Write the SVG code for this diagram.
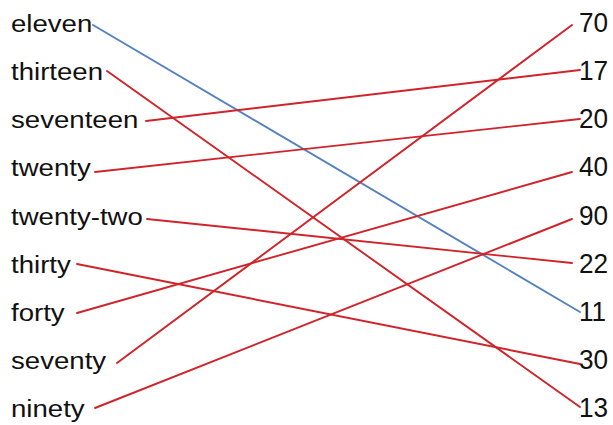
<svg xmlns="http://www.w3.org/2000/svg" width="613" height="425" viewBox="0 0 613 425">
  <style>
    .word { font-family: "Liberation Sans", Arial, sans-serif; font-size: 24px; fill: #111; }
    .num { font-family: "Liberation Sans", Arial, sans-serif; font-size: 27px; fill: #111; }
    .link { fill: none; stroke-width: 1.9; stroke-linecap: round; }
    .red { stroke: #d0232a; }
    .blue { stroke: #5580c2; }
  </style>
  <rect width="613" height="425" fill="#fff"/>

  <!-- connectors: word to number -->
  <g id="connectors">
    <line class="link blue" x1="93" y1="25" x2="580" y2="312"/>
    <line class="link red" x1="107" y1="71" x2="580" y2="407"/>
    <line class="link red" x1="146" y1="121" x2="580" y2="70"/>
    <line class="link red" x1="95" y1="172" x2="580" y2="119"/>
    <line class="link red" x1="147" y1="219" x2="572" y2="263"/>
    <line class="link red" x1="77" y1="264" x2="580" y2="364"/>
    <line class="link red" x1="77" y1="313" x2="572" y2="172"/>
    <line class="link red" x1="117" y1="363" x2="572" y2="25"/>
    <line class="link red" x1="95" y1="408" x2="572" y2="219"/>
  </g>

  <!-- left column: number words -->
  <g id="w-eleven"><text class="word" transform="translate(11,31.7) scale(1.15,1)">eleven</text></g>
  <g id="w-thirteen"><text class="word" transform="translate(11,79.9) scale(1.15,1)">thirteen</text></g>
  <g id="w-seventeen"><text class="word" transform="translate(11,128) scale(1.15,1)">seventeen</text></g>
  <g id="w-twenty"><text class="word" transform="translate(11,176.3) scale(1.15,1)">twenty</text></g>
  <g id="w-twenty-two"><text class="word" transform="translate(11,224.5) scale(1.15,1)">twenty-two</text></g>
  <g id="w-thirty"><text class="word" transform="translate(11,272.7) scale(1.15,1)">thirty</text></g>
  <g id="w-forty"><text class="word" transform="translate(11,321) scale(1.15,1)">forty</text></g>
  <g id="w-seventy"><text class="word" transform="translate(11,369.2) scale(1.15,1)">seventy</text></g>
  <g id="w-ninety"><text class="word" transform="translate(11,417.4) scale(1.15,1)">ninety</text></g>

  <!-- right column: numerals -->
  <g id="n-70"><text class="num" transform="translate(579,31.7) scale(0.97,1)">70</text></g>
  <g id="n-17"><text class="num" transform="translate(579,79.9) scale(0.97,1)">17</text></g>
  <g id="n-20"><text class="num" transform="translate(579,128) scale(0.97,1)">20</text></g>
  <g id="n-40"><text class="num" transform="translate(579,176.3) scale(0.97,1)">40</text></g>
  <g id="n-90"><text class="num" transform="translate(579,224.5) scale(0.97,1)">90</text></g>
  <g id="n-22"><text class="num" transform="translate(579,272.7) scale(0.97,1)">22</text></g>
  <g id="n-11"><text class="num" transform="translate(579,321) scale(0.97,1)">11</text></g>
  <g id="n-30"><text class="num" transform="translate(579,369.2) scale(0.97,1)">30</text></g>
  <g id="n-13"><text class="num" transform="translate(579,417.4) scale(0.97,1)">13</text></g>
</svg>
